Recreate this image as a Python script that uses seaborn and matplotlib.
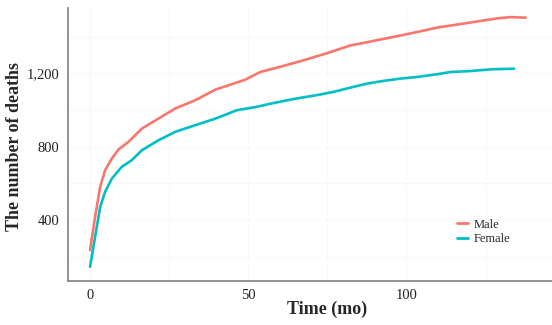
import matplotlib
matplotlib.use("Agg")
import matplotlib.pyplot as plt
from matplotlib.ticker import FuncFormatter, MultipleLocator
import seaborn as sns
import pandas as pd

# Cumulative number of deaths over follow-up time, by sex
male_time = [0, 1.6, 3.2, 4.75, 6.9, 9, 12.1, 16.4, 21.6, 26.9, 33.2, 39.6, 45.4,
             49, 53.8, 60, 67.5, 75, 82.3, 85.4, 92, 97, 103.4, 110, 117, 124.5, 129,
             132.9, 137.7]
male_deaths = [237, 418, 581, 672, 736, 785, 826, 899, 953, 1008, 1053, 1111, 1144,
               1165, 1207, 1235, 1271, 1310, 1352, 1362, 1385, 1402, 1425, 1450, 1468,
               1488, 1500, 1506, 1503]

female_time = [0, 1.6, 3.2, 4.75, 6.9, 10, 13.2, 16.4, 21.6, 26.9, 33.2, 39.6, 46.4,
               52, 58, 64.3, 72, 77, 82.3, 87.6, 92.5, 98.1, 103.4, 109.7, 113.9, 120,
               127, 134]
female_deaths = [146, 309, 472, 554, 627, 690, 727, 781, 835, 881, 917, 953, 999,
                 1015, 1038, 1060, 1082, 1099, 1122, 1144, 1158, 1171, 1180, 1195, 1207,
                 1212, 1222, 1225]

df = pd.concat([
    pd.DataFrame({"time": male_time, "deaths": male_deaths, "sex": "Male"}),
    pd.DataFrame({"time": female_time, "deaths": female_deaths, "sex": "Female"}),
])

sns.set_style("white")
plt.rcParams["font.family"] = ["Liberation Serif", "DejaVu Serif"]

fig = plt.figure(figsize=(5.52, 3.25), dpi=100)
ax = fig.add_axes([0.123, 0.135, 0.877, 0.84])

palette = {"Male": "#F8766D", "Female": "#00BFC4"}
sns.lineplot(data=df, x="time", y="deaths", hue="sex", palette=palette,
             linewidth=1.9, ax=ax, sort=True, estimator=None)

ax.set_xlim(-7, 146)
ax.set_ylim(68, 1555)

ax.xaxis.set_major_locator(MultipleLocator(50))
ax.xaxis.set_minor_locator(MultipleLocator(25))
ax.yaxis.set_major_locator(MultipleLocator(400))
ax.yaxis.set_minor_locator(MultipleLocator(200))
ax.yaxis.set_major_formatter(FuncFormatter(lambda v, p: f"{int(v):,}"))

ax.grid(True, which="both", color="#f8f8f8", linewidth=0.8)
ax.set_axisbelow(True)

for side in ["top", "right"]:
    ax.spines[side].set_visible(False)
for side in ["left", "bottom"]:
    ax.spines[side].set_color("#8a8a8a")
    ax.spines[side].set_linewidth(1.3)

ax.tick_params(axis="both", which="major", length=3, width=1, color="#8a8a8a",
               labelsize=10.5, labelcolor="#222222", pad=3)
ax.tick_params(axis="both", which="minor", length=0)

ax.set_xlabel("Time (mo)", fontsize=13, fontweight="bold")
ax.set_ylabel("The number of deaths", fontsize=13, fontweight="bold")
ax.xaxis.set_label_coords(0.535, -0.072)
ax.yaxis.set_label_coords(-0.092, 0.493)

leg = ax.legend(title=None, loc="center left", bbox_to_anchor=(0.79, 0.18),
                frameon=False, fontsize=9, handlelength=0.9, handletextpad=0.5,
                labelspacing=0.2, borderpad=0)
for line in leg.get_lines():
    line.set_linewidth(2.0)

fig.savefig("out.png", dpi=100)
